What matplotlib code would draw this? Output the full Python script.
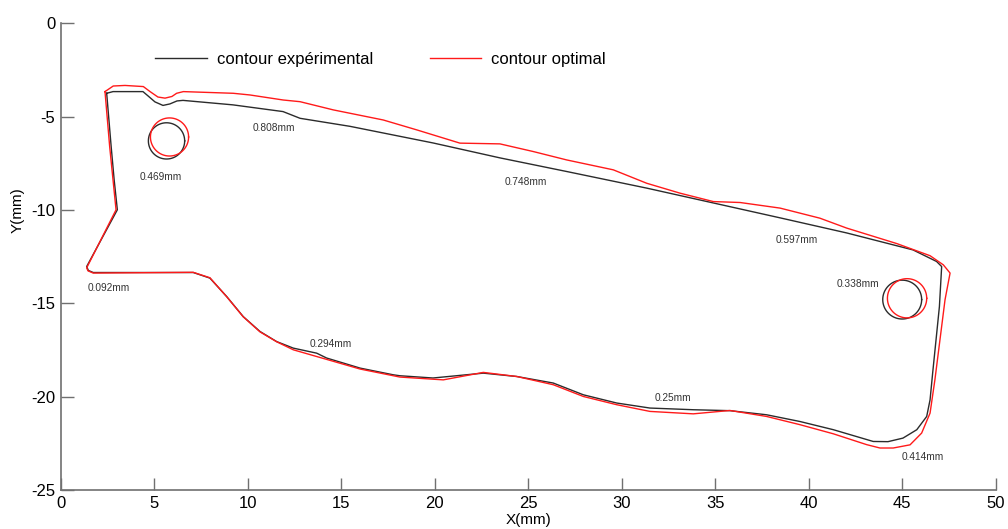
import numpy as np
import matplotlib
matplotlib.use("Agg")
import matplotlib.pyplot as plt

plt.rcParams["font.family"] = ["Liberation Sans", "DejaVu Sans"]
plt.rcParams["axes.unicode_minus"] = False

# contour expérimental (mm)
exp_x = [2.46, 2.80, 4.40, 4.67, 5.04, 5.47, 5.84, 6.22, 6.54, 9.21, 11.89, 12.80,
         15.47, 19.91, 23.49, 27.06, 31.34, 34.88, 38.46, 42.03, 45.58, 46.84, 47.11,
         46.99, 46.81, 46.63, 46.49, 46.31, 45.78, 45.04, 44.24, 43.45, 41.32, 39.53,
         37.75, 35.79, 33.83, 31.51, 29.73, 27.95, 26.34, 24.39, 22.60, 19.91, 18.14,
         17.79, 16.01, 14.22, 13.69, 12.44, 11.55, 10.66, 9.76, 8.88, 7.98, 7.09,
         1.74, 1.48, 1.39, 3.03, 2.86, 2.70, 2.46]
exp_y = [-3.75, -3.66, -3.66, -3.89, -4.21, -4.40, -4.32, -4.16, -4.13, -4.37, -4.73, -5.09,
         -5.52, -6.41, -7.21, -7.94, -8.83, -9.62, -10.42, -11.23, -12.14, -12.76, -13.03,
         -15.17, -16.95, -18.72, -20.17, -21.06, -21.77, -22.22, -22.41, -22.40, -21.77, -21.33,
         -20.97, -20.75, -20.70, -20.61, -20.34, -19.90, -19.27, -18.92, -18.74, -19.00, -18.88,
         -18.83, -18.47, -17.93, -17.67, -17.40, -17.05, -16.51, -15.71, -14.64, -13.65, -13.35,
         -13.35, -13.24, -13.03, -9.99, -8.39, -6.61, -3.75]

# contour optimal (mm)
opt_x = [2.37, 2.81, 3.44, 4.42, 4.78, 5.20, 5.58, 5.95, 6.20, 6.56, 9.23, 10.12, 11.90,
         12.80, 14.58, 17.25, 19.04, 21.35, 23.49, 25.27, 27.06, 29.55, 31.34, 33.12,
         34.90, 36.33, 38.47, 40.60, 42.03, 44.71, 46.49, 47.20, 47.56, 47.29, 47.02,
         46.75, 46.49, 46.04, 45.42, 44.52, 43.81, 43.10, 41.32, 39.53, 37.75, 35.79,
         33.83, 31.51, 29.73, 27.95, 26.34, 24.39, 22.60, 20.46, 18.14, 16.01, 13.69,
         12.44, 11.55, 10.66, 9.76, 8.88, 7.98, 7.09, 1.74, 1.46, 1.39, 2.96, 2.62, 2.37]
opt_y = [-3.66, -3.36, -3.33, -3.39, -3.66, -3.95, -4.01, -3.92, -3.75, -3.66, -3.75, -3.84, -4.11,
         -4.20, -4.64, -5.18, -5.71, -6.42, -6.46, -6.87, -7.32, -7.85, -8.57, -9.10,
         -9.55, -9.60, -9.90, -10.44, -10.97, -11.80, -12.45, -12.94, -13.38, -14.81, -16.95,
         -19.09, -20.88, -21.95, -22.58, -22.75, -22.75, -22.57, -21.99, -21.50, -21.06, -20.74,
         -20.92, -20.79, -20.43, -19.99, -19.36, -18.92, -18.70, -19.10, -18.95, -18.52, -17.85,
         -17.49, -17.06, -16.53, -15.72, -14.65, -13.63, -13.34, -13.38, -13.26, -13.10, -9.99, -6.61, -3.66]

# trous : centre x, centre y, rayon
exp_holes = [(5.66, -6.30, 0.97), (45.00, -14.80, 1.04)]
opt_holes = [(5.82, -6.09, 1.02), (45.26, -14.73, 1.05)]

# écarts
ecart_txt = ["0.469mm", "0.808mm", "0.748mm", "0.597mm", "0.338mm",
             "0.092mm", "0.294mm", "0.25mm", "0.414mm"]
ecart_x = [5.37, 11.42, 24.88, 39.37, 42.64, 2.58, 14.45, 32.73, 46.11]
ecart_y = [-8.23, -5.60, -8.50, -11.60, -13.95, -14.17, -17.17, -20.06, -23.22]

fig = plt.figure(figsize=(10.08, 5.29), dpi=100)
ax = fig.add_axes([0.0602, 0.0737, 0.9276, 0.8823])

noir = "#2b2b2b"
rouge = "#ff1a1a"
ax.plot(exp_x, exp_y, color=noir, lw=1.0, label="contour expérimental")
ax.plot(opt_x, opt_y, color=rouge, lw=1.0, label="contour optimal")

t = np.linspace(0, 2 * np.pi, 120)
for cx, cy, r in exp_holes:
    ax.plot(cx + r * np.cos(t), cy + r * np.sin(t), color=noir, lw=1.0)
for cx, cy, r in opt_holes:
    ax.plot(cx + r * np.cos(t), cy + r * np.sin(t), color=rouge, lw=1.0)

for s, x, y in zip(ecart_txt, ecart_x, ecart_y):
    ax.text(x, y, s, fontsize=7.3, color="#333333", ha="center", va="center")

ax.set_xlim(0, 50)
ax.set_ylim(-25, 0)
ax.set_xticks(np.arange(0, 51, 5))
ax.set_yticks(np.arange(-25, 1, 5))
ax.tick_params(direction="in", length=9, width=1, color="#707070", labelsize=12, pad=4)
for side in ["top", "right"]:
    ax.spines[side].set_visible(False)
for side in ["left", "bottom"]:
    ax.spines[side].set_color("#707070")
    ax.spines[side].set_linewidth(1.2)

ax.set_xlabel("X(mm)", fontsize=11)
ax.set_ylabel("Y(mm)", fontsize=11)
ax.xaxis.set_label_coords(0.5, -0.05)
ax.yaxis.set_label_coords(-0.039, 0.60)

ax.legend(loc="center left", bbox_to_anchor=(0.1009, 0.923), ncol=2, frameon=False,
          fontsize=12, handlelength=3.1, handletextpad=0.6, columnspacing=3.4,
          borderpad=0, borderaxespad=0)

fig.savefig("out.png", dpi=100)
